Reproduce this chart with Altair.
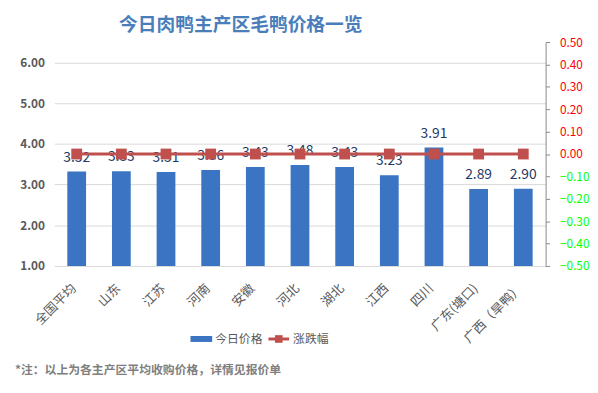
import altair as alt
import pandas as pd

regions = ["全国平均", "山东", "江苏", "河南", "安徽", "河北", "湖北", "江西", "四川", "广东(塘口)", "广西（旱鸭）"]
prices = [3.32, 3.33, 3.31, 3.36, 3.43, 3.48, 3.43, 3.23, 3.91, 2.89, 2.90]
changes = [0.00, 0.00, 0.00, 0.00, 0.00, 0.00, 0.00, 0.00, 0.00, 0.00, 0.00]
left_ticks = [1, 2, 3, 4, 5, 6]
right_ticks = [-0.5, -0.4, -0.3, -0.2, -0.1, 0.0, 0.1, 0.2, 0.3, 0.4, 0.5]
price_base = 1.0

df = pd.DataFrame({"region": regions, "price": prices, "change": changes})

FONT = "Noto Sans CJK SC"
BLUE = "#3A74C2"
RED = "#C0504D"

xenc = alt.X("region:N", sort=regions, title=None,
             scale=alt.Scale(paddingInner=0.58, paddingOuter=0.29),
             axis=alt.Axis(labelAngle=-45, labelFontSize=13, labelColor="#595959",
                           labelFont=FONT, ticks=False, domainColor="#D9D9D9",
                           labelPadding=16, labelOffset=-7, labelOverlap=False))

left_axis = alt.Axis(values=left_ticks, format=".2f", labelFontSize=12,
                     labelFontWeight="bold", labelColor="#595959", labelFont=FONT,
                     domain=False, ticks=False, gridColor="#D9D9D9",
                     labelPadding=10, labelOverlap=False)
right_axis = alt.Axis(orient="right", values=right_ticks, format=".2f",
                      labelFontSize=12, labelFont=FONT, grid=False,
                      domainColor="#888888", tickColor="#888888", tickSize=4,
                      labelColor=alt.condition("datum.value < 0",
                                               alt.value("#00FF00"),
                                               alt.value("#FF0000")),
                      labelPadding=10, labelOverlap=False, labelBound=False)
left_scale = alt.Scale(domain=[1, 6.5], nice=False, zero=False)
right_scale = alt.Scale(domain=[-0.5, 0.5], nice=False)

base = alt.Chart(df)

bars = base.mark_bar(color=BLUE).encode(
    x=xenc,
    y=alt.Y("price:Q", title=None, scale=left_scale, axis=left_axis),
    y2=alt.datum(price_base),
)
labels = base.mark_text(dy=-14, fontSize=14, color="#1F3864", font=FONT).encode(
    x=alt.X("region:N", sort=regions),
    y=alt.Y("price:Q", title=None, scale=left_scale, axis=left_axis),
    text=alt.Text("price:Q", format=".2f"),
)
left = alt.layer(bars, labels)

line = base.mark_line(color=RED, strokeWidth=3).encode(
    x=alt.X("region:N", sort=regions),
    y=alt.Y("change:Q", title=None, scale=right_scale, axis=right_axis),
)
points = base.mark_point(shape="square", filled=True, color=RED, size=120, opacity=1).encode(
    x=alt.X("region:N", sort=regions),
    y=alt.Y("change:Q", title=None, scale=right_scale, axis=right_axis),
)
right = alt.layer(line, points)

deco = pd.DataFrame({"k": [0]})
title = alt.Chart(deco).mark_text(text="今日肉鸭主产区毛鸭价格一览", fontSize=19,
                                  fontWeight="bold", color="#4A7EBB", font=FONT,
                                  align="center", baseline="middle").encode(
    x=alt.value(189), y=alt.value(-17))
note = alt.Chart(deco).mark_text(text="*注：以上为各主产区平均收购价格，详情见报价单", fontSize=12,
                                 fontWeight="bold", color="#7F7F7F", font=FONT,
                                 align="left", baseline="middle").encode(
    x=alt.value(-40), y=alt.value(332))
leg_bar = alt.Chart(deco).mark_rect(color=BLUE).encode(
    x=alt.value(138), x2=alt.value(160), y=alt.value(298), y2=alt.value(304))
leg_bar_t = alt.Chart(deco).mark_text(text="今日价格", fontSize=12, color="#595959", font=FONT,
                                      align="left", baseline="middle").encode(
    x=alt.value(163), y=alt.value(301))
leg_line = alt.Chart(deco).mark_rule(color=RED, strokeWidth=3).encode(
    x=alt.value(217), x2=alt.value(238), y=alt.value(301))
leg_pt = alt.Chart(deco).mark_point(shape="square", filled=True, color=RED, size=60, opacity=1).encode(
    x=alt.value(227.5), y=alt.value(301))
leg_line_t = alt.Chart(deco).mark_text(text="涨跌幅", fontSize=12, color="#595959", font=FONT,
                                       align="left", baseline="middle").encode(
    x=alt.value(242), y=alt.value(301))

chart = alt.layer(left, right, title, note, leg_bar, leg_bar_t, leg_line, leg_pt, leg_line_t).resolve_scale(
    y="independent"
).properties(
    width=498, height=227,
    autosize=alt.AutoSizeParams(type="none"),
    padding={"left": 47, "top": 32, "right": 45, "bottom": 110},
).configure_view(stroke=None)

chart.save("out.html", embed_options={"renderer": "svg", "actions": False})
